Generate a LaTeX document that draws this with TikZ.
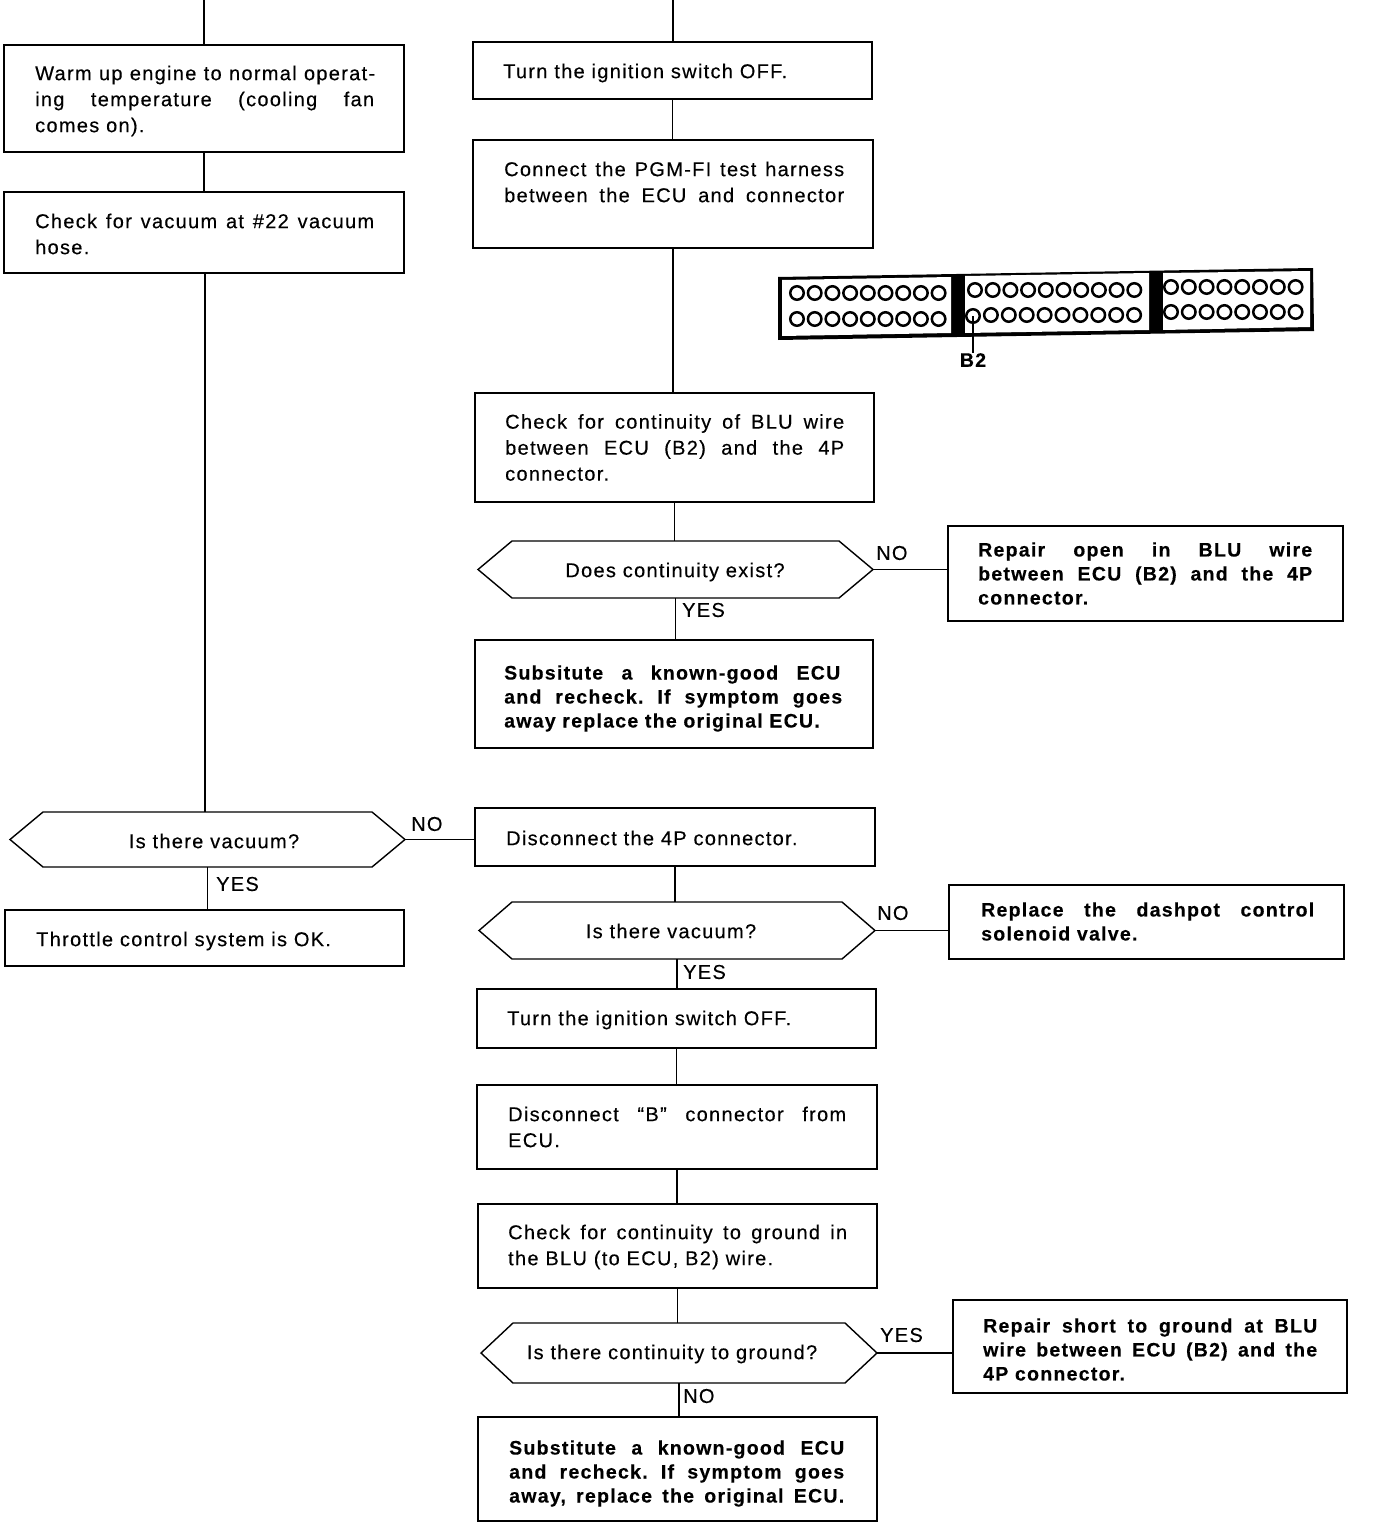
\documentclass[tikz,border=0pt]{standalone}
\usepackage{fontspec}
\setmainfont[LetterSpace=6.5,FakeBold=0.3]{Liberation Sans}
\usetikzlibrary{calc}
\frenchspacing
\newcommand{\jl}[2]{\makebox[#1pt][s]{#2}}
\newcommand{\flowbx}[5]{\node[flowbox,minimum width={(#4-#2)*1pt},minimum height={(#5-#3)*1pt}] (#1) at ({(#2+#4)/2},{(#3+#5)/2}) {};}
\newcommand{\flowhex}[6]{\node[hexframe,minimum width={(#4-#2)*1pt},minimum height={(#5-#3)*1pt}] (#1) at ({(#2+#4)/2},{(#3+#5)/2}) {};
  \draw[flowline] (#1.west) -- ($(#1.north west)+(#6,0)$) -- ($(#1.north east)+(-#6,0)$) -- (#1.east) -- ($(#1.south east)+(-#6,0)$) -- ($(#1.south west)+(#6,0)$) -- cycle;}
\tikzset{
  flowline/.style={line width=1.4pt,black},
  flowbox/.style={draw,line width=1.4pt,inner sep=0pt,outer sep=0pt},
  hexframe/.style={inner sep=0pt,outer sep=0pt},
  link/.style={line width=1.3pt,black},
  txt/.style={align=left,inner sep=0pt,anchor=west,yshift=-2pt,font=\fontsize{20}{26}\selectfont},
  btxt/.style={align=left,inner sep=0pt,anchor=west,yshift=-1.5pt,font=\fontsize{19.5}{24}\selectfont\bfseries},
  lab/.style={inner sep=0pt,anchor=west,font=\fontsize{20}{24}\selectfont},
  pin/.style={circle,draw,line width=2.5pt,minimum size=13.5pt,inner sep=0pt},
}
\begin{document}
\begin{tikzpicture}[x=1pt,y=-1pt]
\useasboundingbox (0,0) rectangle (1392,1522);
\coordinate (topL) at (204,0);
\coordinate (topR) at (673,0);
% boxes
\flowbx{warm}{4}{45}{404}{152}
\flowbx{check}{4}{192}{404}{273}
\flowbx{ign}{473}{42}{872}{99}
\flowbx{harness}{473}{140}{873}{248}
\flowbx{cont}{475}{393}{874}{502}
\flowhex{exist}{478}{541}{873}{598}{34}
\flowbx{repA}{948}{526}{1343}{621}
\flowbx{subA}{475}{640}{873}{748}
\flowhex{vacL}{10}{812}{405}{867}{33}
\flowbx{okbox}{5}{910}{404}{966}
\flowbx{disc}{475}{808}{875}{866}
\flowhex{vacR}{479}{902}{875}{959}{33}
\flowbx{repB}{949}{885}{1344}{959}
\flowbx{ignB}{477}{989}{876}{1048}
\flowbx{discB}{477}{1085}{877}{1169}
\flowbx{gnd}{478}{1204}{877}{1288}
\flowhex{gndq}{481}{1323}{877}{1383}{32}
\flowbx{repC}{953}{1300}{1347}{1393}
\flowbx{subB}{478}{1417}{877}{1521}
% texts
\node[txt] (t1) at (35,99) {\jl{340}{Warm up engine to normal operat-}\\\jl{339}{ing temperature (cooling fan}\\comes on).};
\node[txt] (t2) at (35,232) {\jl{339}{Check for vacuum at \#22 vacuum}\\hose.};
\node[txt] (t3) at (503,71) {Turn the ignition switch OFF.};
\node[txt] (t4) at (504,180) {\jl{340}{Connect the PGM-FI test harness}\\\jl{340}{between the ECU and connector}};
\node[txt] (t5) at (505,445.5) {\jl{339}{Check for continuity of BLU wire}\\\jl{339}{between ECU (B2) and the 4P}\\connector.};
\node[txt,anchor=center] (t6) at (675,570) {Does continuity exist?};
\node[btxt] (t7) at (978,572) {\jl{334}{Repair open in BLU wire}\\\jl{334}{between ECU (B2) and the 4P}\\connector.};
\node[btxt] (t8) at (504,697) {\jl{336}{Subsitute a known-good ECU}\\\jl{338}{and recheck. If symptom goes}\\away replace the original ECU.};
\node[txt,anchor=center] (t9) at (214,839) {Is there vacuum?};
\node[txt] (t10) at (36,939) {Throttle control system is OK.};
\node[txt] (t11) at (506,836) {Disconnect the 4P connector.};
\node[txt,anchor=center] (t12) at (671,929) {Is there vacuum?};
\node[btxt] (t13) at (981,920) {\jl{333}{Replace the dashpot control}\\solenoid valve.};
\node[txt] (t14) at (507,1018) {Turn the ignition switch OFF.};
\node[txt] (t15) at (508,1125) {\jl{338}{Disconnect ``B'' connector from}\\ECU.};
\node[txt] (t16) at (508,1245) {\jl{339}{Check for continuity to ground in}\\the BLU (to ECU, B2) wire.};
\node[txt,anchor=center] (t17) at (672,1352) {Is there continuity to ground?};
\node[btxt] (t18) at (983,1348) {\jl{334}{Repair short to ground at BLU}\\\jl{334}{wire between ECU (B2) and the}\\4P connector.};
\node[btxt] (t19) at (509,1472) {\jl{335}{Substitute a known-good ECU}\\\jl{335}{and recheck. If symptom goes}\\\jl{335}{away, replace the original ECU.}};
% branch labels
\node[lab] (l1) at (876,553) {NO};
\node[lab] (l2) at (682,610) {YES};
\node[lab] (l3) at (411,824) {NO};
\node[lab] (l4) at (216,884) {YES};
\node[lab] (l5) at (877,913) {NO};
\node[lab] (l6) at (683,972) {YES};
\node[lab] (l7) at (880,1335) {YES};
\node[lab] (l8) at (683,1396) {NO};
% connectors
\draw[line width=2.8pt] (topL) -- (topL |- warm.north);
\draw[line width=2pt] (topR) -- (topR |- ign.north);
\draw[link] (warm.south) -- (warm.south |- check.north);
\draw[link] ([xshift=1pt]check.south) -- ([xshift=1pt]check.south |- vacL.north);
\draw[link] (ign.south) -- (ign.south |- harness.north);
\draw[link] (harness.south) -- (harness.south |- cont.north);
\draw[link] (cont.south) -- (cont.south |- exist.north);
\draw[link] (exist.south) -- (exist.south |- subA.north);
\draw[link] (exist.east) -- (exist.east -| repA.west);
\draw[link] (vacL.east) -- (vacL.east -| disc.west);
\draw[link] (vacL.south) -- (vacL.south |- okbox.north);
\draw[link] (disc.south) -- (disc.south |- vacR.north);
\draw[link] (vacR.east) -- (vacR.east -| repB.west);
\draw[link] (vacR.south) -- (vacR.south |- ignB.north);
\draw[link] (ignB.south) -- (ignB.south |- discB.north);
\draw[link] (discB.south) -- (discB.south |- gnd.north);
\draw[link] (gnd.south) -- (gnd.south |- gndq.north);
\draw[link] (gndq.east) -- (gndq.east -| repC.west);
\draw[link] (gndq.south) -- (gndq.south |- subB.north);
% ECU connector
\fill[black] (778,277) -- (1313,268) -- (1314,331) -- (778,340) -- cycle;
\fill[white] (782,280) -- (951,277) -- (951,333) -- (782,336) -- cycle;
\fill[white] (965,276) -- (1149,273) -- (1149,330) -- (965,333) -- cycle;
\fill[white] (1163,273) -- (1310,271) -- (1310,327) -- (1163,330) -- cycle;
\foreach \i in {0,...,8} {
  \node[pin] at ({797+17.7*\i},293) {};
  \node[pin] at ({797+17.7*\i},319) {};
}
\foreach \i in {0,...,9} {
  \node[pin] at ({975+17.7*\i},290) {};
}
\foreach \i in {1,...,9} {
  \node[pin] at ({973+17.9*\i},315) {};
}
\node[pin] (b2pin) at (973,316) {};
\foreach \i in {0,...,7} {
  \node[pin] at ({1171+17.8*\i},287) {};
  \node[pin] at ({1171+17.8*\i},312) {};
}
\node[inner sep=0pt,font=\fontsize{19.5}{24}\selectfont\bfseries] (b2) at (973,360) {B2};
\draw[line width=2.4pt] (b2pin.center) -- (b2.north);
\end{tikzpicture}
\end{document}
